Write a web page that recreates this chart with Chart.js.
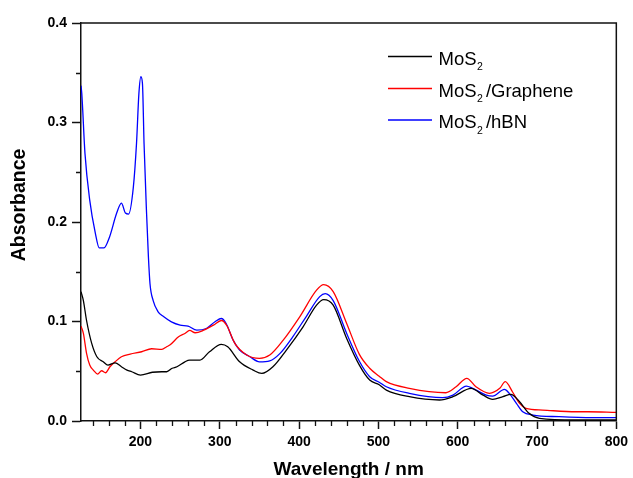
<!DOCTYPE html>
<html>
<head>
<meta charset="utf-8">
<script src="https://cdn.jsdelivr.net/npm/chart.js@4.4.1/dist/chart.umd.min.js"></script>
<style>
  html, body { margin: 0; padding: 0; background: #ffffff; }
  #c { display: block; }
</style>
</head>
<body>
<canvas id="c" width="633" height="478"></canvas>
<script>
// ---- Data (wavelength in nm, absorbance) ----
const seriesLabels = ["MoS2", "MoS2/Graphene", "MoS2/hBN"];

const wlMoS2 = [125,128,132,138.5,145,153,159,168,176,183,189,200,215,227,233,240,246,256,262,270,275,287,302,310,325,342,353,367,384,405,422,431,443,460,476,489,501,510,539,577,594,617,632,644,657,667,678,690,703,749,800];
const absMoS2 = [0.130,0.121,0.101,0.078,0.0646,0.0595,0.0562,0.0585,0.0545,0.0512,0.0495,0.0462,0.049,0.0495,0.0495,0.053,0.0545,0.0595,0.0612,0.0612,0.0612,0.0696,0.077,0.0746,0.0595,0.0512,0.0478,0.0545,0.0713,0.0947,0.1165,0.122,0.1165,0.083,0.0562,0.0412,0.0365,0.0311,0.0244,0.0211,0.0244,0.0328,0.026,0.0218,0.0244,0.0268,0.0194,0.0077,0.0027,0.001,0.001];

const wlGraphene = [125,128,132,136,140.5,146,151,156,161.5,168,176,187,201.5,214,227,233,237,248,256,262,269,279,292,302,308.5,319,334,350,363,380,401,422,431,443,460,476,489,501,510,539,585,598,611.5,623,640,653,660,669,678,686,707,749,764,800];
const absGraphene = [0.0954,0.088,0.068,0.0562,0.0512,0.0472,0.0505,0.0485,0.0545,0.0595,0.0646,0.0673,0.0696,0.0726,0.072,0.0746,0.0763,0.0846,0.088,0.091,0.0887,0.091,0.0964,0.101,0.0964,0.078,0.0663,0.063,0.0663,0.0813,0.105,0.1315,0.137,0.130,0.098,0.067,0.053,0.045,0.0395,0.0328,0.0284,0.0344,0.0429,0.0344,0.0278,0.0328,0.0395,0.0294,0.0177,0.0127,0.011,0.0093,0.0093,0.0087];

const wlHBN = [125,126,130,136,143,148,154,161,170,176,181,185,191,195,198,200.5,202.5,204.5,207.5,210,212,216,222,229,239,250,260,271,283,294,302,308,317,325,338,350,363,376,392,409,426,433,443,460,476,489,501,510,539,581,594,611,619,636,644,659,665,674,682,695,728,770,800];
const absHBN = [0.337,0.329,0.269,0.222,0.189,0.174,0.174,0.185,0.209,0.219,0.209,0.208,0.235,0.279,0.329,0.346,0.339,0.279,0.212,0.165,0.138,0.121,0.110,0.105,0.0997,0.0964,0.0954,0.0914,0.093,0.0997,0.103,0.098,0.081,0.0713,0.0646,0.0595,0.0605,0.068,0.0846,0.105,0.125,0.128,0.121,0.088,0.060,0.0445,0.039,0.0344,0.0278,0.0234,0.026,0.0351,0.0328,0.026,0.025,0.0318,0.0278,0.0177,0.0093,0.006,0.0043,0.0033,0.0033];

const xTickValues = [200, 300, 400, 500, 600, 700, 800];
const yTickValues = [0.0, 0.1, 0.2, 0.3, 0.4];
const xAxisTitle = "Wavelength / nm";
const yAxisTitle = "Absorbance";

const seriesColors = ["#000000", "#ff0000", "#0000ff"];

function pts(xs, ys) { return xs.map((x, i) => ({ x: x, y: ys[i] })); }

const FONT = "'Liberation Sans', Arial, Helvetica, sans-serif";

// Frame, minor ticks, custom y title and legend with subscripts
const decorPlugin = {
  id: 'decor',
  afterDraw(chart) {
    const ctx = chart.ctx;
    const a = chart.chartArea;
    const xs = chart.scales.x, ys = chart.scales.y;
    ctx.save();
    ctx.strokeStyle = '#111';
    ctx.lineWidth = 1.5;
    // top & right frame lines
    ctx.beginPath();
    ctx.moveTo(a.left, a.top); ctx.lineTo(a.right, a.top); ctx.lineTo(a.right, a.bottom);
    ctx.stroke();
    // minor ticks x (every 20 nm), y (every 0.05)
    ctx.lineWidth = 1.3;
    ctx.beginPath();
    for (let v = 140; v < 800; v += 20) {
      if (v % 100 === 0) continue;
      const px = Math.round(xs.getPixelForValue(v)) + 0.5;
      ctx.moveTo(px, a.bottom); ctx.lineTo(px, a.bottom + 5);
    }
    for (let k = 0; k < 4; k++) {
      const py = Math.round(ys.getPixelForValue(0.05 + 0.1 * k)) + 0.5;
      ctx.moveTo(a.left, py); ctx.lineTo(a.left - 5, py);
    }
    ctx.stroke();

    // y axis title
    ctx.fillStyle = '#000';
    ctx.font = "bold 19.5px " + FONT;
    ctx.textAlign = 'center';
    ctx.textBaseline = 'middle';
    ctx.translate(20, 205);
    ctx.rotate(-Math.PI / 2);
    ctx.fillText(yAxisTitle, 0, 0);
    ctx.restore();

    // legend
    ctx.save();
    const rows = [56, 88, 119.5];
    chart.data.datasets.forEach((ds, i) => {
      const y = rows[i];
      ctx.strokeStyle = ds.borderColor;
      ctx.lineWidth = 1.5;
      ctx.beginPath();
      ctx.moveTo(388, y + 0.5); ctx.lineTo(432, y + 0.5);
      ctx.stroke();
      const label = ds.label;
      const idx = label.indexOf('2');
      const before = label.slice(0, idx), after = label.slice(idx + 1);
      const base = y + 8.5;
      ctx.fillStyle = '#000';
      ctx.textBaseline = 'alphabetic';
      ctx.textAlign = 'left';
      ctx.font = "18.5px " + FONT;
      let x = 438.5;
      ctx.fillText(before, x, base);
      x += ctx.measureText(before).width + 0.5;
      ctx.font = "10.5px " + FONT;
      ctx.fillText('2', x, base + 5.5);
      x += ctx.measureText('2').width + 3;
      ctx.font = "18.5px " + FONT;
      ctx.fillText(after, x, base);
    });
    ctx.restore();
  }
};

new Chart(document.getElementById('c'), {
  type: 'line',
  data: {
    datasets: [
      { label: seriesLabels[0], data: pts(wlMoS2, absMoS2), borderColor: seriesColors[0] },
      { label: seriesLabels[1], data: pts(wlGraphene, absGraphene), borderColor: seriesColors[1] },
      { label: seriesLabels[2], data: pts(wlHBN, absHBN), borderColor: seriesColors[2] }
    ].map(d => Object.assign(d, {
      borderWidth: 1.3, pointRadius: 0, fill: false,
      cubicInterpolationMode: 'monotone', parsing: false
    }))
  },
  options: {
    responsive: false,
    animation: false,
    devicePixelRatio: 1,
    layout: { padding: { left: 0, top: 23, right: 16, bottom: 0 } },
    plugins: { legend: { display: false }, tooltip: { enabled: false } },
    scales: {
      x: {
        type: 'linear',
        min: 125, max: 800,
        afterFit(s) { s.height = 57; },
        afterBuildTicks(s) { s.ticks = xTickValues.map(v => ({ value: v })); },
        border: { display: true, color: '#111', width: 1.5 },
        grid: { drawOnChartArea: false, drawTicks: true, tickLength: 8, tickWidth: 1.5, tickColor: '#111' },
        ticks: {
          color: '#000', padding: 5, maxRotation: 0,
          font: { family: FONT, size: 14, weight: 'bold' },
          callback: v => String(v)
        },
        title: {
          display: true, text: xAxisTitle, color: '#000',
          font: { family: FONT, size: 19, weight: 'bold', lineHeight: 1 },
          padding: { top: 0, bottom: -1 }
        }
      },
      y: {
        type: 'linear',
        min: 0, max: 0.4,
        afterFit(s) { s.width = 81; },
        afterBuildTicks(s) { s.ticks = yTickValues.map(v => ({ value: v })); },
        border: { display: true, color: '#111', width: 1.5 },
        grid: { drawOnChartArea: false, drawTicks: true, tickLength: 9, tickWidth: 1.5, tickColor: '#111' },
        ticks: {
          color: '#000', padding: 5,
          font: { family: FONT, size: 14, weight: 'bold' },
          callback: v => Number(v).toFixed(1)
        }
      }
    }
  },
  plugins: [decorPlugin]
});
</script>
</body>
</html>
